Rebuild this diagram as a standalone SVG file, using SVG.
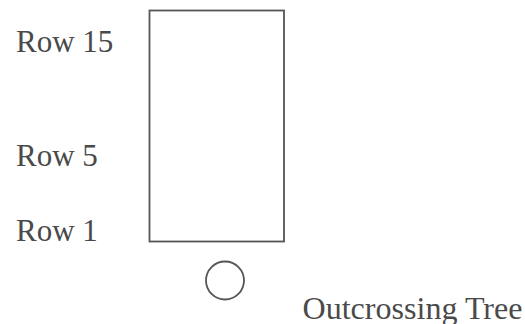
<svg xmlns="http://www.w3.org/2000/svg" width="525" height="324" viewBox="0 0 525 324">
<style>
.t{font-family:"Liberation Serif","Times New Roman",serif;font-size:31px;fill:#4a4a4a}
.s{fill:none;stroke:#555;stroke-width:1.8}
</style>
<rect width="525" height="324" fill="#fff"/>
<g id="labels">
<text class="t" x="16" y="51.5">Row 15</text>
<text class="t" x="16" y="166">Row 5</text>
<text class="t" x="16" y="241">Row 1</text>
</g>
<g id="plot"><rect class="s" x="149.5" y="10.5" width="134.5" height="231"/></g>
<g id="tree"><circle class="s" cx="225" cy="280.5" r="19"/></g>
<g id="tree-label"><text class="t" x="302.5" y="318.5" textLength="220" lengthAdjust="spacingAndGlyphs">Outcrossing Tree</text></g>
<g id="connectors"/>
</svg>
